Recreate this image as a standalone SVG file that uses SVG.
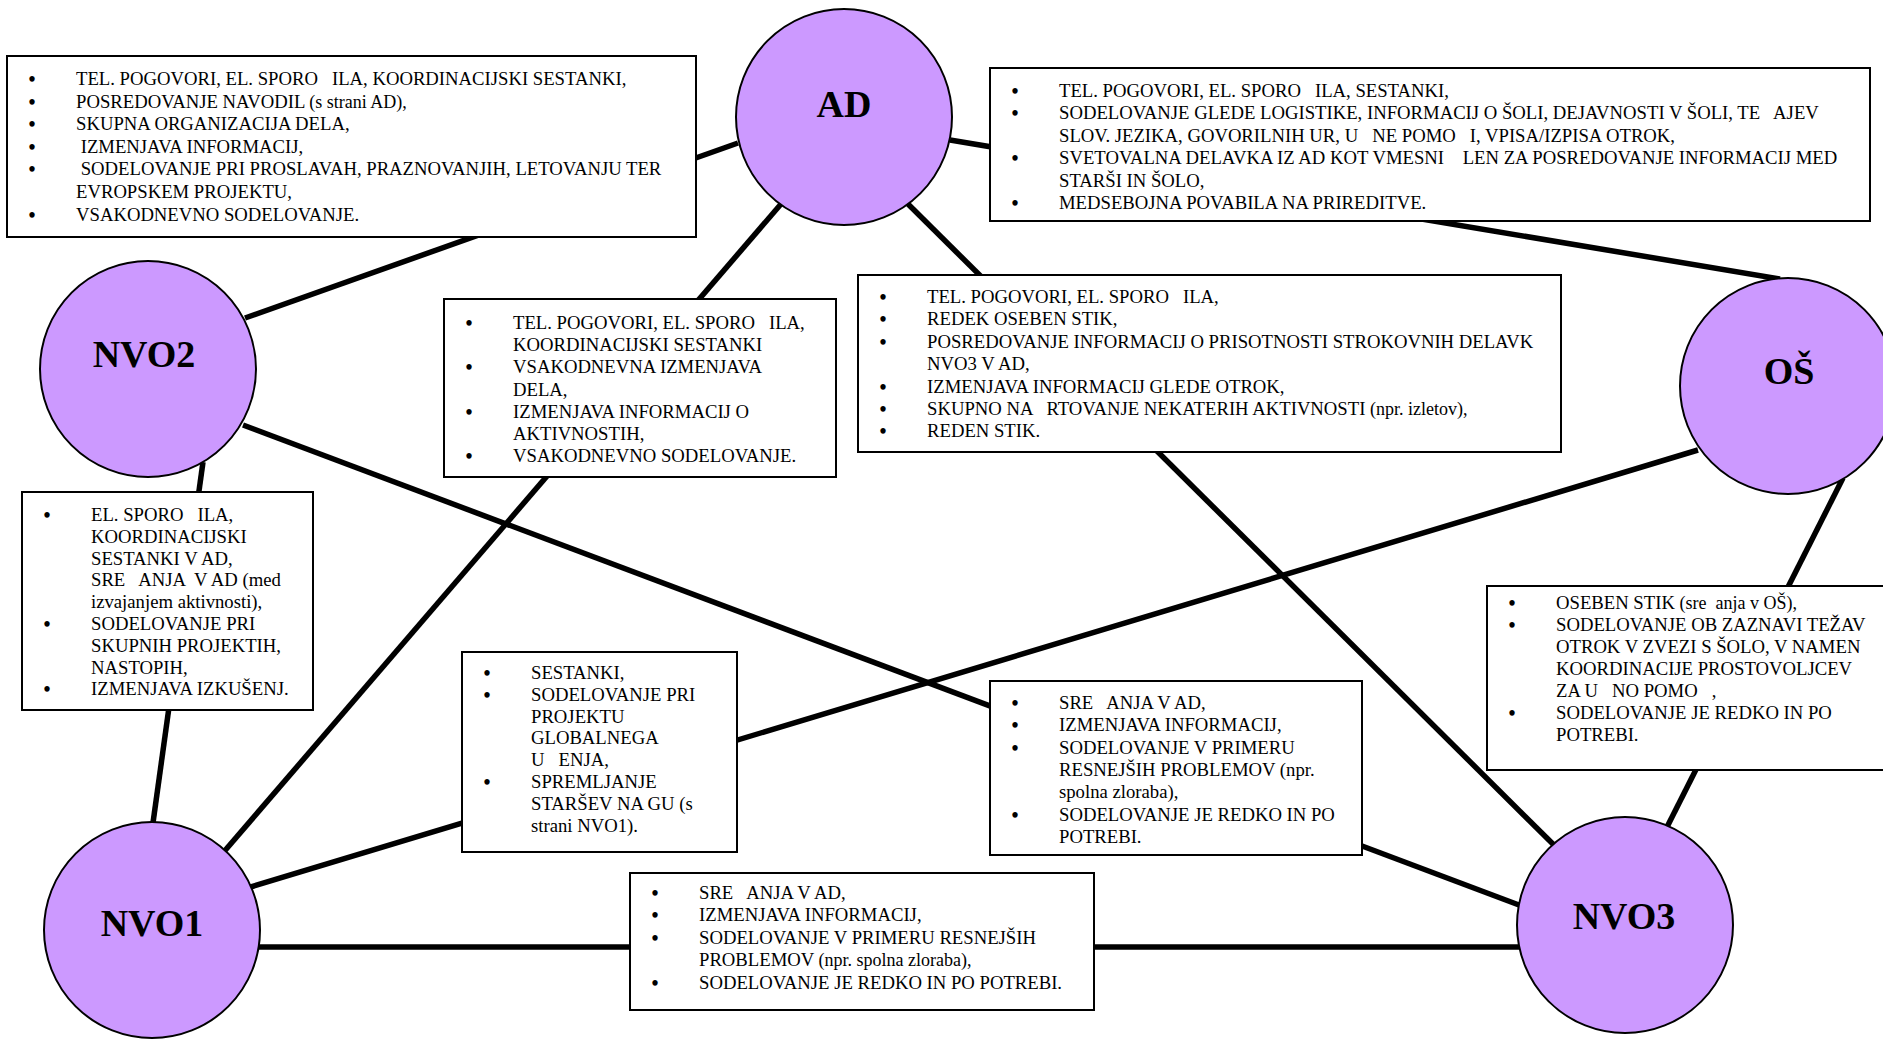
<svg xmlns="http://www.w3.org/2000/svg" width="1883" height="1040" viewBox="0 0 1883 1040">
<style>
.conn line{stroke:#000;stroke-width:5.5;fill:none}
.box{fill:#fff;stroke:#000;stroke-width:2}
.node{fill:#CC99FF;stroke:#000;stroke-width:2}
.lbl{font-family:"Liberation Serif","Times New Roman",serif;font-weight:bold;font-size:38px;text-anchor:middle;fill:#000}
.t{font-family:"Liberation Serif","Times New Roman",serif;font-size:18.7px;fill:#000;white-space:pre}
.b{font-family:"Liberation Serif","Times New Roman",serif;font-size:20px;font-weight:bold;fill:#000;text-anchor:middle}
.s{font-size:18px}
</style>
<rect width="1883" height="1040" fill="#fff"/>
<g id="connectors" class="conn">
<line x1="738" y1="143" x2="245" y2="318"/>
<line x1="950" y1="140" x2="1780" y2="279"/>
<line x1="781" y1="204" x2="222" y2="854"/>
<line x1="908" y1="204" x2="1559" y2="850"/>
<line x1="203" y1="462" x2="152" y2="830"/>
<line x1="243" y1="425" x2="1519" y2="905"/>
<line x1="1698" y1="450" x2="244" y2="889"/>
<line x1="1843" y1="478" x2="1664" y2="833"/>
<line x1="256" y1="947" x2="1519" y2="947"/>
</g>
<g id="box-ad-nvo2">
<rect class="box" x="7" y="56" width="689" height="181"/>
<text class="b"><tspan x="32" y="86">•</tspan><tspan x="32" y="108.6">•</tspan><tspan x="32" y="131.2">•</tspan><tspan x="32" y="153.8">•</tspan><tspan x="32" y="176.4">•</tspan><tspan x="32" y="221.6">•</tspan></text>
<text class="t" xml:space="preserve"><tspan x="76" y="85">TEL. POGOVORI, EL. SPORO   ILA, KOORDINACIJSKI SESTANKI,</tspan><tspan x="76" y="107.6">POSREDOVANJE NAVODIL <tspan class="s">(s strani AD),</tspan></tspan><tspan x="76" y="130.2">SKUPNA ORGANIZACIJA DELA,</tspan><tspan x="76" y="152.8"> IZMENJAVA INFORMACIJ,</tspan><tspan x="76" y="175.4"> SODELOVANJE PRI PROSLAVAH, PRAZNOVANJIH, LETOVANJU TER</tspan><tspan x="76" y="198">EVROPSKEM PROJEKTU,</tspan><tspan x="76" y="220.6">VSAKODNEVNO SODELOVANJE.</tspan></text>
</g>
<g id="box-ad-os">
<rect class="box" x="990" y="68" width="880" height="153"/>
<text class="b"><tspan x="1015" y="98">•</tspan><tspan x="1015" y="120.4">•</tspan><tspan x="1015" y="165.2">•</tspan><tspan x="1015" y="210">•</tspan></text>
<text class="t" xml:space="preserve"><tspan x="1059" y="97">TEL. POGOVORI, EL. SPORO   ILA, SESTANKI,</tspan><tspan x="1059" y="119.4">SODELOVANJE GLEDE LOGISTIKE, INFORMACIJ O ŠOLI, DEJAVNOSTI V ŠOLI, TE   AJEV</tspan><tspan x="1059" y="141.8">SLOV. JEZIKA, GOVORILNIH UR, U   NE POMO   I, VPISA/IZPISA OTROK,</tspan><tspan x="1059" y="164.2">SVETOVALNA DELAVKA IZ AD KOT VMESNI    LEN ZA POSREDOVANJE INFORMACIJ MED</tspan><tspan x="1059" y="186.6">STARŠI IN ŠOLO,</tspan><tspan x="1059" y="209">MEDSEBOJNA POVABILA NA PRIREDITVE.</tspan></text>
</g>
<g id="box-ad-nvo1">
<rect class="box" x="444" y="299" width="392" height="178"/>
<text class="b"><tspan x="469" y="330">•</tspan><tspan x="469" y="374.4">•</tspan><tspan x="469" y="418.8">•</tspan><tspan x="469" y="463.2">•</tspan></text>
<text class="t" xml:space="preserve"><tspan x="513" y="329">TEL. POGOVORI, EL. SPORO   ILA,</tspan><tspan x="513" y="351.2">KOORDINACIJSKI SESTANKI</tspan><tspan x="513" y="373.4">VSAKODNEVNA IZMENJAVA</tspan><tspan x="513" y="395.6">DELA,</tspan><tspan x="513" y="417.8">IZMENJAVA INFORMACIJ O</tspan><tspan x="513" y="440">AKTIVNOSTIH,</tspan><tspan x="513" y="462.2">VSAKODNEVNO SODELOVANJE.</tspan></text>
</g>
<g id="box-ad-nvo3">
<rect class="box" x="858" y="275" width="703" height="177"/>
<text class="b"><tspan x="883" y="304">•</tspan><tspan x="883" y="326.4">•</tspan><tspan x="883" y="348.8">•</tspan><tspan x="883" y="393.6">•</tspan><tspan x="883" y="416">•</tspan><tspan x="883" y="438.4">•</tspan></text>
<text class="t" xml:space="preserve"><tspan x="927" y="303">TEL. POGOVORI, EL. SPORO   ILA,</tspan><tspan x="927" y="325.4">REDEK OSEBEN STIK,</tspan><tspan x="927" y="347.8">POSREDOVANJE INFORMACIJ O PRISOTNOSTI STROKOVNIH DELAVK</tspan><tspan x="927" y="370.2">NVO3 V AD,</tspan><tspan x="927" y="392.6">IZMENJAVA INFORMACIJ GLEDE OTROK,</tspan><tspan x="927" y="415">SKUPNO NA   RTOVANJE NEKATERIH AKTIVNOSTI <tspan class="s">(npr. izletov),</tspan></tspan><tspan x="927" y="437.4">REDEN STIK.</tspan></text>
</g>
<g id="box-nvo2-nvo1">
<rect class="box" x="22" y="492" width="291" height="218"/>
<text class="b"><tspan x="47" y="522">•</tspan><tspan x="47" y="631">•</tspan><tspan x="47" y="696.4">•</tspan></text>
<text class="t" xml:space="preserve"><tspan x="91" y="521">EL. SPORO   ILA,</tspan><tspan x="91" y="542.8">KOORDINACIJSKI</tspan><tspan x="91" y="564.6">SESTANKI V AD,</tspan><tspan x="91" y="586.4">SRE   ANJA  V AD (med</tspan><tspan x="91" y="608.2">izvajanjem aktivnosti),</tspan><tspan x="91" y="630">SODELOVANJE PRI</tspan><tspan x="91" y="651.8">SKUPNIH PROJEKTIH,</tspan><tspan x="91" y="673.6">NASTOPIH,</tspan><tspan x="91" y="695.4">IZMENJAVA IZKUŠENJ.</tspan></text>
</g>
<g id="box-os-nvo1">
<rect class="box" x="462" y="652" width="275" height="200"/>
<text class="b"><tspan x="487" y="680">•</tspan><tspan x="487" y="701.8">•</tspan><tspan x="487" y="789">•</tspan></text>
<text class="t" xml:space="preserve"><tspan x="531" y="679">SESTANKI,</tspan><tspan x="531" y="700.8">SODELOVANJE PRI</tspan><tspan x="531" y="722.6">PROJEKTU</tspan><tspan x="531" y="744.4">GLOBALNEGA</tspan><tspan x="531" y="766.2">U   ENJA,</tspan><tspan x="531" y="788">SPREMLJANJE</tspan><tspan x="531" y="809.8">STARŠEV NA GU (s</tspan><tspan x="531" y="831.6">strani NVO1).</tspan></text>
</g>
<g id="box-nvo2-nvo3">
<rect class="box" x="990" y="681" width="372" height="174"/>
<text class="b"><tspan x="1015" y="710">•</tspan><tspan x="1015" y="732.3">•</tspan><tspan x="1015" y="754.6">•</tspan><tspan x="1015" y="821.5">•</tspan></text>
<text class="t" xml:space="preserve"><tspan x="1059" y="709">SRE   ANJA V AD,</tspan><tspan x="1059" y="731.3">IZMENJAVA INFORMACIJ,</tspan><tspan x="1059" y="753.6">SODELOVANJE V PRIMERU</tspan><tspan x="1059" y="775.9">RESNEJŠIH PROBLEMOV (npr.</tspan><tspan x="1059" y="798.2">spolna zloraba),</tspan><tspan x="1059" y="820.5">SODELOVANJE JE REDKO IN PO</tspan><tspan x="1059" y="842.8">POTREBI.</tspan></text>
</g>
<g id="box-os-nvo3">
<rect class="box" x="1487" y="586" width="420" height="184"/>
<text class="b"><tspan x="1512" y="610">•</tspan><tspan x="1512" y="632">•</tspan><tspan x="1512" y="720">•</tspan></text>
<text class="t" xml:space="preserve"><tspan x="1556" y="609">OSEBEN STIK <tspan class="s">(sre  anja v OŠ),</tspan></tspan><tspan x="1556" y="631">SODELOVANJE OB ZAZNAVI TEŽAV</tspan><tspan x="1556" y="653">OTROK V ZVEZI S ŠOLO, V NAMEN</tspan><tspan x="1556" y="675">KOORDINACIJE PROSTOVOLJCEV</tspan><tspan x="1556" y="697">ZA U   NO POMO   ,</tspan><tspan x="1556" y="719">SODELOVANJE JE REDKO IN PO</tspan><tspan x="1556" y="741">POTREBI.</tspan></text>
</g>
<g id="box-nvo1-nvo3">
<rect class="box" x="630" y="873" width="464" height="137"/>
<text class="b"><tspan x="655" y="900">•</tspan><tspan x="655" y="922.4">•</tspan><tspan x="655" y="944.8">•</tspan><tspan x="655" y="989.6">•</tspan></text>
<text class="t" xml:space="preserve"><tspan x="699" y="899">SRE   ANJA V AD,</tspan><tspan x="699" y="921.4">IZMENJAVA INFORMACIJ,</tspan><tspan x="699" y="943.8">SODELOVANJE V PRIMERU RESNEJŠIH</tspan><tspan x="699" y="966.2">PROBLEMOV <tspan class="s">(npr. spolna zloraba),</tspan></tspan><tspan x="699" y="988.6">SODELOVANJE JE REDKO IN PO POTREBI.</tspan></text>
</g>
<g id="node-ad">
<circle class="node" cx="844" cy="117" r="108"/>
<text class="lbl" x="844" y="117">AD</text>
</g>
<g id="node-nvo2">
<circle class="node" cx="148" cy="369" r="108"/>
<text class="lbl" x="144" y="367">NVO2</text>
</g>
<g id="node-os">
<circle class="node" cx="1788" cy="386" r="108"/>
<text class="lbl" x="1789" y="384">OŠ</text>
</g>
<g id="node-nvo1">
<circle class="node" cx="152" cy="930" r="108"/>
<text class="lbl" x="152" y="936">NVO1</text>
</g>
<g id="node-nvo3">
<circle class="node" cx="1625" cy="925" r="108"/>
<text class="lbl" x="1624" y="929">NVO3</text>
</g>
</svg>
